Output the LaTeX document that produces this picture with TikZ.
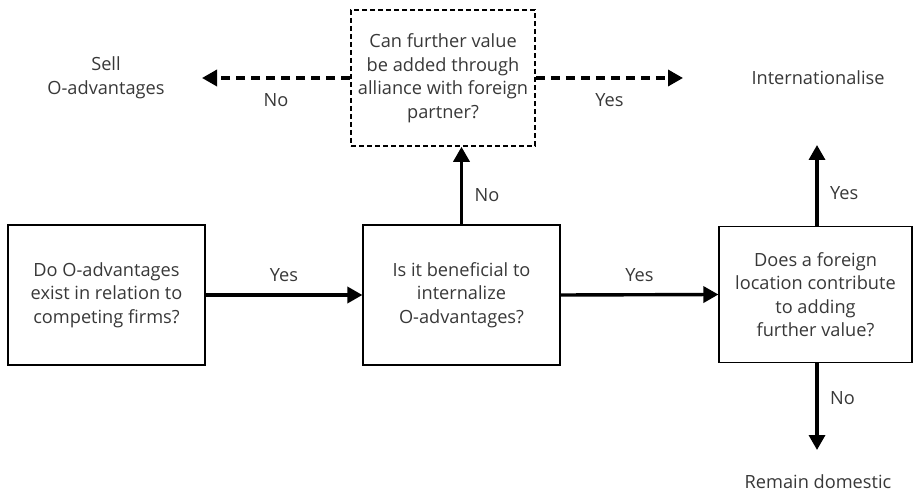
\documentclass[tikz,border=0pt]{standalone}
\usepackage{fontspec}
\setmainfont{Open Sans}
\usetikzlibrary{arrows.meta,calc}
\definecolor{txt}{HTML}{383838}
\begin{document}
\begin{tikzpicture}[x=1pt,y=-1pt,
  font=\fontsize{18.2}{23.5}\selectfont,
  every node/.style={text=txt},
  qbox/.style={draw=black,line width=1.2pt,align=center,inner sep=0pt},
  dbox/.style={qbox,dashed,line width=1.6pt,dash pattern=on 5pt off 3pt},
  flow/.style={line width=3.4pt,-{Triangle[length=15pt,width=16pt]}},
  dflow/.style={flow,dash pattern=on 9pt off 6pt},
  lbl/.style={align=center}]
\useasboundingbox (0,0) rectangle (913,494);
% decision boxes
\node[qbox,minimum width=197pt,minimum height=140pt] (b1) at (106.5,295)
  {Do O-advantages\\exist in relation to\\competing firms?};
\node[qbox,minimum width=197pt,minimum height=140pt] (b2) at (461.5,295)
  {Is it beneficial to\\internalize\\O-advantages?};
\node[qbox,minimum width=193pt,minimum height=136pt] (b3) at (815.5,294.5)
  {Does a foreign\\location contribute\\to adding\\further value?};
\node[dbox,minimum width=184pt,minimum height=136pt] (b4) at (443,78)
  {Can further value\\be added through\\alliance with foreign\\partner?};
% outcomes
\node[lbl] (sell) at (106,78) {Sell\\O-advantages};
\node[lbl] (intl) at (818,78) {Internationalise};
\node[lbl] (dom) at (818,482) {Remain domestic};
% free arrow ends
\coordinate (sellend) at (202,78);
\coordinate (intlend) at (683,78);
\coordinate (upend) at (817,145);
\coordinate (downend) at (817,450);
% connectors
\draw[flow] (b1.east) -- node[above=8pt] {Yes} (b2.west);
\draw[flow] (b2.east) -- node[above=8pt] {Yes} (b3.west);
\draw[flow] (b2.north) -- node[pos=0.38,right=8pt] {No} (b2.north |- b4.south);
\draw[dflow] (b4.west) -- node[below=10pt] {No} (sellend);
\draw[dflow] (b4.east) -- node[below=10pt] {Yes} (intlend);
\draw[flow] (b3.north -| upend) -- node[pos=0.4,right=8pt] {Yes} (upend);
\draw[flow] (b3.south -| downend) -- node[pos=0.4,right=8pt] {No} (downend);
\end{tikzpicture}
\end{document}
